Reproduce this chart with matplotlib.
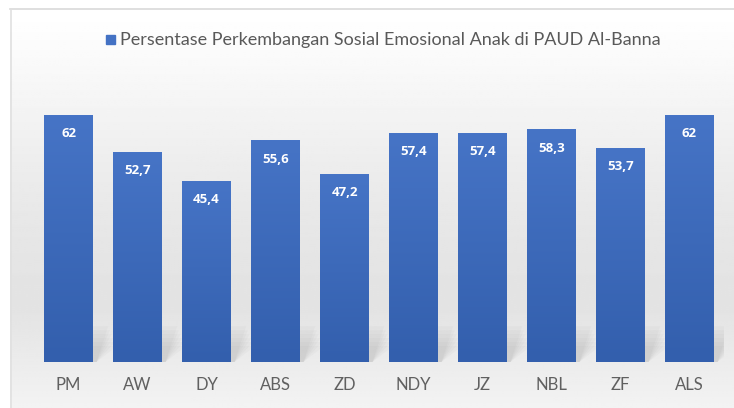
import matplotlib.pyplot as plt
import numpy as np
from matplotlib.patches import Rectangle, Polygon
from matplotlib.colors import LinearSegmentedColormap

labels = ["PM", "AW", "DY", "ABS", "ZD", "NDY", "JZ", "NBL", "ZF", "ALS"]
values = [62, 52.7, 45.4, 55.6, 47.2, 57.4, 57.4, 58.3, 53.7, 62]
series_name = "Persentase Perkembangan Sosial Emosional Anak di PAUD Al-Banna"

W, H = 734, 408
FONT = "Lato"
fig = plt.figure(figsize=(W / 100, H / 100), dpi=100)

# background panel with vertical gradient (excel style)
bg = fig.add_axes([0, 0, 1, 1])
bg.set_xlim(0, W)
bg.set_ylim(H, 0)
bg.axis("off")
yy = np.linspace(0, 1, 200)
shade = 1 - 0.11 * np.sin(np.clip(yy * 1.25, 0, 1) * np.pi / 2) ** 1.2
shade = np.where(yy > 0.75, shade + (yy - 0.75) * 0.25, shade)
grad = np.repeat(shade[:, None], 2, axis=1)
bg.imshow(grad, cmap="gray", vmin=0, vmax=1, extent=[10, W, H, 9], aspect="auto")
bg.add_patch(Rectangle((0, 0), W, 9, color="white", zorder=1))
bg.plot([10, W], [8.5, 8.5], color="#d9d9d9", lw=1.2, zorder=2)
bg.plot([10.5, 10.5], [9, H], color="#e0e0e0", lw=1.2, zorder=2)

# legend
bg.add_patch(Rectangle((106, 35), 9, 9, color="#4472c4", zorder=3))
leg = bg.text(120, 40, series_name, fontsize=11, color="#595959",
              va="center", ha="left", family=FONT, zorder=3)
fig.canvas.draw()
w_now = leg.get_window_extent().width
leg.set_fontsize(11 * 540 / w_now)

ax = fig.add_axes([34 / W, 46 / H, 690 / W, 0.7])
ymax = 0.7 * H / 3.98
ax.axis("off")
ax.patch.set_alpha(0)

x = np.arange(len(labels))
bw = 0.71
bars = ax.bar(x, values, width=bw, color="none")

bar_grad = np.linspace(0, 1, 100)[:, None]
cmap = LinearSegmentedColormap.from_list("b", ["#4674c6", "#335fad"])
for xi, v, b in zip(x, values, bars):
    # soft shadow behind the bar
    for k in range(6):
        off = 0.04 + k * 0.025
        sh = Polygon([(xi + bw / 2, 0), (xi + bw / 2, 9 - k),
                      (xi + bw / 2 + off + 0.18, 9 - k), (xi + bw / 2 + 0.05, 0)],
                     closed=True, color="#9a9a9a", alpha=0.06, lw=0, zorder=1)
        ax.add_patch(sh)
    ax.imshow(bar_grad, cmap=cmap, aspect="auto",
              extent=[xi - bw / 2, xi + bw / 2, 0, v], zorder=2)
    ax.text(xi, v - 4.6, f"{v:g}".replace(".", ","), ha="center", va="center",
            color="white", fontsize=9.5, fontweight="bold", family="Open Sans", zorder=3)
    ax.text(xi, -5.9, labels[xi], ha="center", va="center", color="#606060",
            fontsize=12, family=FONT, clip_on=False)
ax.set_xlim(-0.5, len(labels) - 0.5)
ax.set_ylim(0, ymax)

fig.savefig("out.png", dpi=100)
